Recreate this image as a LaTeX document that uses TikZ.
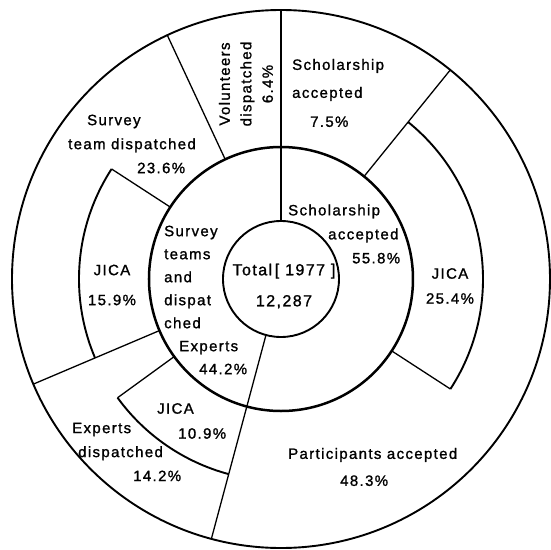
\documentclass[tikz,border=0pt]{standalone}
\usepackage{fontspec}
\setmainfont{Liberation Sans}[LetterSpace=9,FakeBold=1.2]
\begin{document}
\begin{tikzpicture}
\tikzset{
  ring/.style={line width=1.9pt},
  midring/.style={line width=2.5pt},
  divider/.style={line width=1.3pt},
  lbl/.style={inner sep=0pt, font=\fontsize{15pt}{24pt}\selectfont, align=left},
  clbl/.style={inner sep=0pt, font=\fontsize{15pt}{24pt}\selectfont, align=center}
}
\useasboundingbox (-281pt,-271pt) rectangle (269pt,279pt);
\fill[white] (-281pt,-271pt) rectangle (269pt,279pt);
% radii
\def\ra{58pt}\def\rb{132pt}\def\rc{202pt}\def\rd{269pt}
% circles
\draw[ring] (0,0) circle[radius=\ra];
\draw[midring] (0,0) circle[radius=\rb];
\draw[ring] (0,0) circle[radius=\rd];
% JICA arcs
\draw[ring] (51:\rc) arc[start angle=51, end angle=-33, radius=\rc];
\draw[ring] (147:\rc) arc[start angle=147, end angle=203, radius=\rc];
\draw[ring] (216:\rc) arc[start angle=216, end angle=255, radius=\rc];
% dividers
\draw[divider] (90:\ra) -- (90:\rd);
\draw[divider] (255:\ra) -- (255:\rd);
\draw[divider] (115:\rb) -- (115:\rd);
\draw[divider] (51:\rb) -- (51:\rd);
\draw[divider] (203:\rb) -- (203:\rd);
\draw[divider] (-33:\rb) -- (-33:\rc);
\draw[divider] (147:\rb) -- (147:\rc);
\draw[divider] (216:\rb) -- (216:\rc);
% labels
\node[clbl, rotate=90, font=\fontsize{15pt}{21.5pt}\selectfont] (vol) at (-35pt,195pt) {Volunteers\\dispatched\\6.4\%};
\node[lbl, anchor=west] (sch75) at (11pt,186pt) {Scholarship\\[4pt]accepted\\[5pt]\hspace*{18pt}7.5\%};
\node[lbl, anchor=west] (svo) at (-213pt,135pt) {\hspace*{19pt}Survey\\team dispatched\\\hspace*{69pt}23.6\%};
\node[clbl] (j159) at (-169pt,-6pt) {JICA\\[6pt]15.9\%};
\node[lbl, anchor=west, font=\fontsize{15pt}{23pt}\selectfont] (svi) at (-117pt,-21pt) {Survey\\teams\\and\\dispat\\ched\\\hspace*{15pt}Experts\\\hspace*{35pt}44.2\%};
\node[clbl, font=\fontsize{16pt}{24pt}\selectfont] (tot) at (3pt,-7pt) {Total\,[ 1977 ]\\[7pt]12,287};
\node[lbl, anchor=west] (sch558) at (7pt,45pt) {Scholarship\\\hspace*{40pt}accepted\\\hspace*{64pt}55.8\%};
\node[clbl, font=\fontsize{15pt}{25pt}\selectfont] (j254) at (169pt,-7pt) {JICA\\25.4\%};
\node[lbl, anchor=west, font=\fontsize{15pt}{25pt}\selectfont] (j109) at (-124pt,-142pt) {JICA\\\hspace*{21pt}10.9\%};
\node[lbl, anchor=west] (exo) at (-209pt,-173pt) {Experts\\\hspace*{6pt}dispatched\\\hspace*{61pt}14.2\%};
\node[lbl, anchor=west, font=\fontsize{15pt}{27pt}\selectfont] (par) at (7pt,-188pt) {Participants accepted\\\hspace*{52pt}48.3\%};
\end{tikzpicture}
\end{document}
